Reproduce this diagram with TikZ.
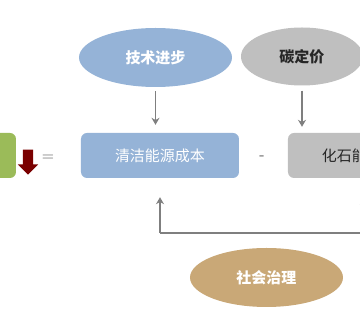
\documentclass[tikz,border=0pt]{standalone}
\usepackage{fontspec}
\newfontfamily\cjk{Noto Sans CJK SC}
\usetikzlibrary{arrows.meta,positioning,shapes.geometric,shapes.arrows}
\definecolor{cpBlue}{HTML}{95B3D7}
\definecolor{cpGrey}{HTML}{BFBFBF}
\definecolor{cpGreen}{HTML}{9BBB59}
\definecolor{cpTan}{HTML}{C9A877}
\definecolor{cpDarkRed}{HTML}{7A0000}
\definecolor{cpLine}{HTML}{7F7F7F}
\definecolor{cpText}{HTML}{262626}

\begin{document}
\begin{tikzpicture}[
      x=1pt,y=-1pt,
      font=\cjk\fontsize{15}{17}\selectfont,
      box/.style={fill=cpBlue,text=white,rounded corners=6pt,
                  minimum height=45pt,minimum width=158pt,inner sep=0pt},
      greybox/.style={box,fill=cpGrey,text=cpText},
      oval/.style={ellipse,fill=cpBlue,text=white,minimum width=153pt,
                   minimum height=59pt,inner sep=0pt,font=\cjk\bfseries\fontsize{15}{17}\selectfont},
      arr/.style={-{Stealth[length=7pt,width=8pt]},draw=cpLine,line width=1.6pt},
      ln/.style={draw=cpLine,line width=1.6pt},
      op/.style={text=cpLine,font=\bfseries\fontsize{14}{16}\selectfont}
    ]
    \useasboundingbox (0,0) rectangle (360,315);
    \clip (0,0) rectangle (360,315);

    \node[box,fill=cpGreen,minimum width=56pt] (result) at (-12,155.5) {};
    \node[single arrow,shape border rotate=270,fill=cpDarkRed,inner sep=5pt,
          single arrow head extend=5pt,minimum height=25pt] (down) at (28,159.5) {};
    \node[op] (eq) at (48,158) {=};

    \node[box]     (clean)  at (160,155.5) {清洁能源成本};
    \node[op]      (minus)  at (262,158)   {-};
    \node[greybox] (fossil) at (367,155.5) {化石能源成本};

    \node[oval]                      (tech)   at (155.5,57.5) {技术进步};
    \node[oval,fill=cpGrey,text=cpText,minimum width=122pt,minimum height=58pt]
                                     (carbon) at (302,56.5)  {碳定价};
    \node[oval,fill=cpTan]           (gov)    at (266.5,277.5) {社会治理};

    \draw[arr,shorten <=4pt,shorten >=8pt] (tech) -- (tech |- clean.north);
    \draw[arr,shorten <=5pt,shorten >=6pt] (carbon) -- (carbon |- fossil.north);

    % governance feeds back into both costs
    \coordinate (forkL) at (160,233);
    \coordinate (forkR) at (364,233);
    \draw[ln] (forkL) -- (forkR);
    \draw[arr,shorten >=19pt] (forkL) -- (clean.south);
    \draw[arr,shorten >=19pt] (forkR) -- (forkR |- fossil.south);
  \end{tikzpicture}
\end{document}
